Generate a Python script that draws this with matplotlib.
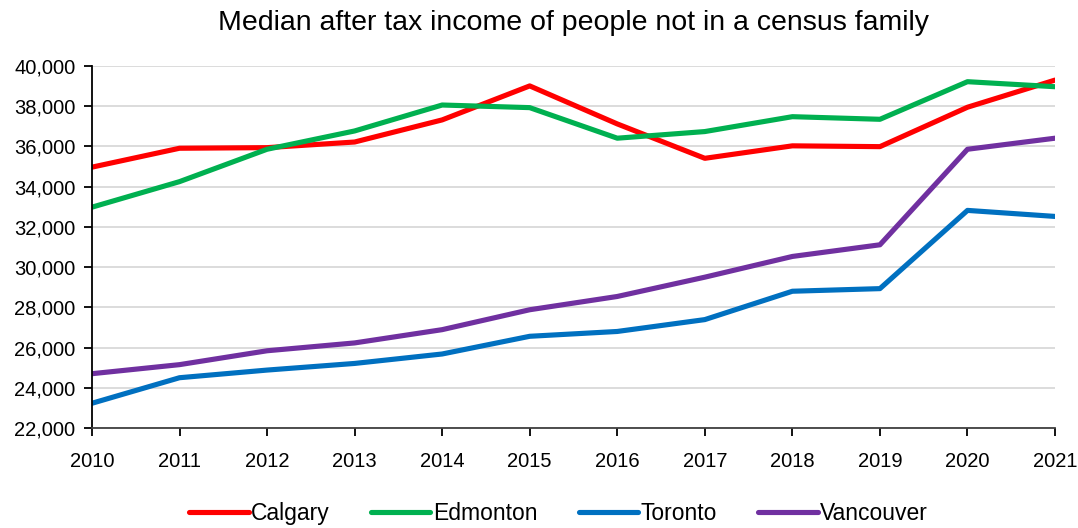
import matplotlib
matplotlib.use('Agg')
import matplotlib.pyplot as plt
from matplotlib.ticker import FuncFormatter

years = list(range(2010, 2022))
calgary = [34970, 35910, 35940, 36220, 37320, 39010, 37120, 35410, 36030, 35990, 37950, 39300]
edmonton = [32980, 34250, 35860, 36770, 38060, 37930, 36410, 36740, 37480, 37350, 39220, 38970]
toronto = [23230, 24500, 24880, 25210, 25680, 26560, 26800, 27390, 28800, 28930, 32820, 32520]
vancouver = [24700, 25150, 25840, 26230, 26890, 27880, 28540, 29500, 30530, 31110, 35860, 36410]

series = [('Calgary', calgary, '#FF0000'),
          ('Edmonton', edmonton, '#00B050'),
          ('Toronto', toronto, '#0070C0'),
          ('Vancouver', vancouver, '#7030A0')]

plt.rcParams['font.family'] = ['Liberation Sans', 'DejaVu Sans']

fig = plt.figure(figsize=(10.78, 5.28), dpi=100)
ax = fig.add_axes([0.0853, 0.1894, 0.8934, 0.6856])

for name, vals, col in series:
    ax.plot(years, vals, color=col, linewidth=3.7, label=name, solid_capstyle='round')

ax.set_xlim(2010, 2021)
ax.set_ylim(22000, 40000)
ax.set_xticks(years)
ax.set_yticks(range(22000, 40001, 2000))
ax.yaxis.set_major_formatter(FuncFormatter(lambda v, p: f'{int(v):,}'))
ax.grid(axis='y', color='#D9D9D9', linewidth=1.3)
ax.set_axisbelow(True)
for s in ['top', 'right']:
    ax.spines[s].set_visible(False)
ax.spines['left'].set_color('black')
ax.spines['bottom'].set_color('#404040')
ax.spines['left'].set_linewidth(1.3)
ax.spines['bottom'].set_linewidth(1.3)
ax.tick_params(axis='both', labelsize=14.5, length=6, width=1.3, direction='out')
ax.tick_params(axis='x', pad=11)
ax.tick_params(axis='y', pad=6)

ax.set_title('Median after tax income of people not in a census family', fontsize=20.5, pad=26)
fig.legend(loc='center', bbox_to_anchor=(0.518, 0.027), ncol=4, frameon=False,
           fontsize=16.5, handlelength=2.6, columnspacing=1.8, handletextpad=0.1)

fig.savefig('out.png', dpi=100)
